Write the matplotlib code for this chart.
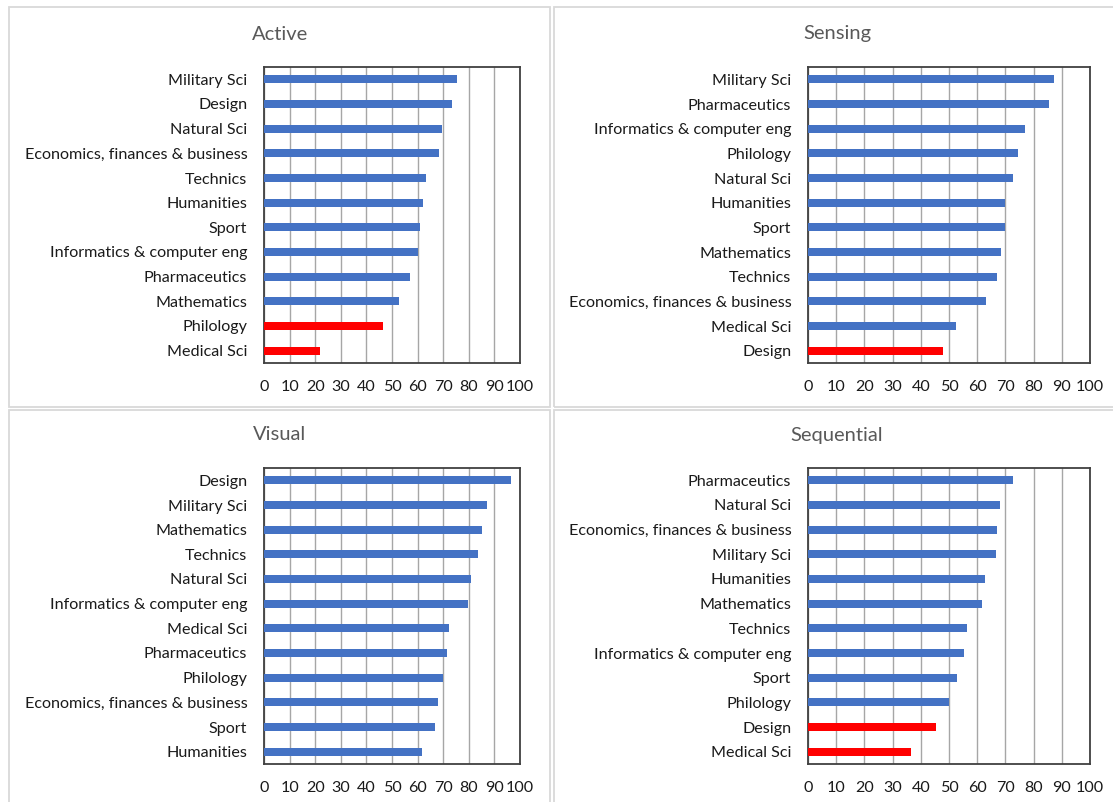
import matplotlib
matplotlib.use('Agg')
import matplotlib.pyplot as plt
from matplotlib.patches import Rectangle

plt.rcParams['font.family'] = ['Lato', 'DejaVu Sans']

# data, top bar first
active_cats = ['Military Sci', 'Design', 'Natural Sci', 'Economics, finances & business',
               'Technics', 'Humanities', 'Sport', 'Informatics & computer eng',
               'Pharmaceutics', 'Mathematics', 'Philology', 'Medical Sci']
active_vals = [75.5, 73.6, 69.4, 68.4, 63.2, 62.2, 60.8, 60.3, 57.0, 52.7, 46.6, 21.9]
active_red = ['Philology', 'Medical Sci']

sensing_cats = ['Military Sci', 'Pharmaceutics', 'Informatics & computer eng', 'Philology',
                'Natural Sci', 'Humanities', 'Sport', 'Mathematics', 'Technics',
                'Economics, finances & business', 'Medical Sci', 'Design']
sensing_vals = [87.4, 85.6, 77.1, 74.4, 72.7, 70.0, 70.0, 68.4, 67.1, 63.2, 52.4, 48.0]
sensing_red = ['Design']

visual_cats = ['Design', 'Military Sci', 'Mathematics', 'Technics', 'Natural Sci',
               'Informatics & computer eng', 'Medical Sci', 'Pharmaceutics', 'Philology',
               'Economics, finances & business', 'Sport', 'Humanities']
visual_vals = [96.4, 87.2, 85.0, 83.6, 80.7, 79.8, 72.3, 71.6, 69.9, 68.0, 66.9, 61.7]
visual_red = []

seq_cats = ['Pharmaceutics', 'Natural Sci', 'Economics, finances & business', 'Military Sci',
            'Humanities', 'Mathematics', 'Technics', 'Informatics & computer eng', 'Sport',
            'Philology', 'Design', 'Medical Sci']
seq_vals = [72.6, 68.0, 67.1, 66.5, 62.7, 61.8, 56.3, 55.3, 52.7, 50.0, 45.4, 36.7]
seq_red = ['Design', 'Medical Sci']

x_ticks = [0, 10, 20, 30, 40, 50, 60, 70, 80, 90, 100]

W, H = 1113, 802
fig = plt.figure(figsize=(W / 100, H / 100), dpi=100)


def box(x0, y0, x1, y1):
    return [x0 / W, 1 - y1 / H, (x1 - x0) / W, (y1 - y0) / H]


# panel frames
for (x0, y0, x1, y1) in [(9, 7, 550, 407), (554, 7, 1120, 407),
                         (9, 410, 550, 820), (554, 410, 1120, 820)]:
    fig.patches.append(Rectangle((x0 / W, 1 - y1 / H), (x1 - x0) / W, (y1 - y0) / H,
                                 transform=fig.transFigure, fill=False,
                                 edgecolor='#d9d9d9', linewidth=1.3))


def draw(rect, title, title_x, title_y, cats, vals, red):
    ax = fig.add_axes(box(*rect))
    colors = ['#FF0000' if c in red else '#4472C4' for c in cats]
    ax.barh(range(len(cats)), vals, height=0.33, color=colors, zorder=3)
    ax.set_ylim(len(cats) - 0.5, -0.5)
    ax.set_xlim(0, 100)
    ax.set_yticks(range(len(cats)))
    ax.set_yticklabels(cats)
    ax.set_xticks(x_ticks)
    ax.tick_params(axis='both', length=0, labelsize=11.6, colors='#1a1a1a')
    ax.tick_params(axis='y', pad=12)
    ax.tick_params(axis='x', pad=12)
    ax.grid(axis='x', color='#a6a6a6', linewidth=1, zorder=0)
    for s in ax.spines.values():
        s.set_color('#404040')
        s.set_linewidth(1.3)
    fig.text(title_x / W, 1 - title_y / H, title, ha='center', va='center',
             fontsize=14.5, color='#595959')
    return ax


draw((264, 67, 520, 363), 'Active', 280, 34, active_cats, active_vals, active_red)
draw((808, 67, 1090, 363), 'Sensing', 837, 34, sensing_cats, sensing_vals, sensing_red)
draw((264, 468, 520, 764), 'Visual', 280, 435, visual_cats, visual_vals, visual_red)
draw((808, 468, 1090, 764), 'Sequential', 837, 435, seq_cats, seq_vals, seq_red)

plt.savefig('out.png', dpi=100, facecolor='white')
plt.close()
